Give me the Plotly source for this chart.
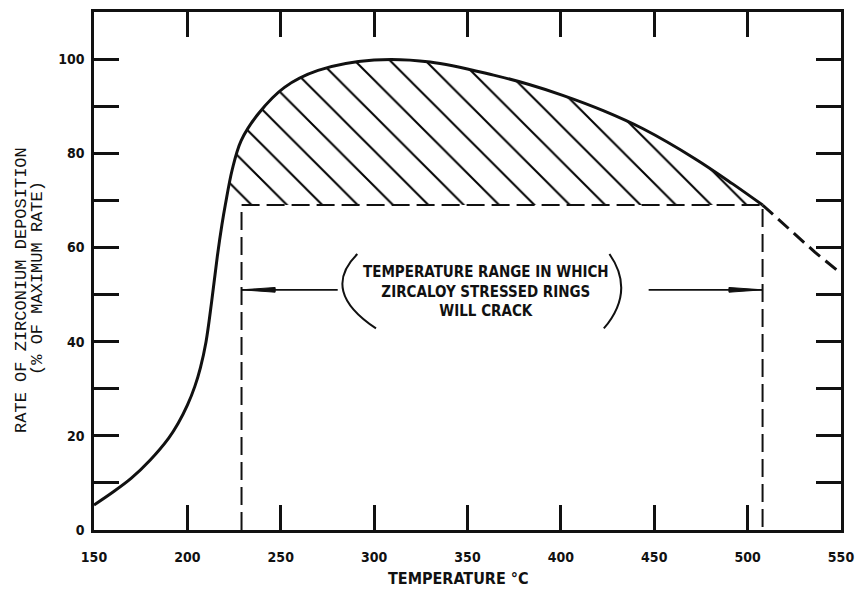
import plotly.graph_objects as go

# Deposition rate curve (% of maximum rate) versus temperature (deg C)
temp_c = [150, 160, 170, 180, 190, 195, 200, 204, 207, 210, 213, 216, 218.5,
          220.3, 224, 228.8, 238, 252, 270, 300, 330, 364, 383, 401, 423,
          444, 472, 492, 508]
rate_pct = [5.3, 8.0, 11.0, 14.8, 19.5, 22.6, 26.5, 30.5, 34.5, 40.0, 48.5, 58.0, 64.8,
            69.0, 76.5, 82.7, 88.4, 94.0, 97.6, 99.8, 99.4, 96.6, 94.6, 92.3, 89.0,
            85.2, 78.8, 73.5, 69.0]

# Extrapolated (dashed) continuation above 508 deg C
ext_temp_c = [508, 536, 550]
ext_rate_pct = [69.0, 59.0, 54.5]

# Cracking range of the stressed Zircaloy rings
crack_lo = 229
crack_hi = 508
crack_rate = 69
arrow_rate = 51
arrow_tail_lo = 280.5
arrow_tail_hi = 447

x_ticks = [150, 200, 250, 300, 350, 400, 450, 500, 550]
y_ticks = [0, 10, 20, 30, 40, 50, 60, 70, 80, 90, 100]
y_labels = [str(v) if v % 20 == 0 else "" for v in y_ticks]

label_lines = ["TEMPERATURE RANGE IN WHICH", "ZIRCALOY STRESSED RINGS", "WILL CRACK"]
label_temp = 360
label_rate = 50.7

COND = "DejaVu Sans Condensed"
MONO = "Liberation Mono"
INK = "#111111"
SMOOTH = 1.0

fig = go.Figure()

# Hatched band between the crack threshold and the curve
band = [(t, r) for t, r in zip(temp_c, rate_pct) if r >= crack_rate and t <= crack_hi]
band_t = [p[0] for p in band]
band_r = [p[1] for p in band]
fig.add_trace(go.Scatter(
    x=[band_t[0], band_t[-1]], y=[crack_rate, crack_rate], mode="lines",
    line=dict(width=0, color="rgba(0,0,0,0)"), hoverinfo="skip", showlegend=False))
fig.add_trace(go.Scatter(
    x=band_t, y=band_r, mode="lines",
    line=dict(width=0, shape="spline", smoothing=SMOOTH, color="rgba(0,0,0,0)"),
    fill="tonexty", fillcolor="rgba(255,255,255,0)",
    fillpattern=dict(shape="\\", size=25, solidity=0.08, fillmode="replace",
                     fgcolor="#000000", fgopacity=1, bgcolor="rgba(255,255,255,0)"),
    hoverinfo="skip", showlegend=False))

# Dashed outline of the cracking range
fig.add_trace(go.Scatter(
    x=[crack_lo, crack_lo, crack_hi, crack_hi], y=[0, crack_rate, crack_rate, 0],
    mode="lines", line=dict(color=INK, width=2, dash="18px,7px"),
    hoverinfo="skip", showlegend=False))

# Measured curve
fig.add_trace(go.Scatter(
    x=temp_c, y=rate_pct, mode="lines",
    line=dict(color=INK, width=3, shape="spline", smoothing=SMOOTH),
    showlegend=False))

# Extrapolated tail
fig.add_trace(go.Scatter(
    x=ext_temp_c, y=ext_rate_pct, mode="lines",
    line=dict(color=INK, width=3, dash="14px,7px"),
    showlegend=False))

# Range arrows
head_len = 18
head_half = 0.5
for tail, head in ((arrow_tail_lo, crack_lo), (arrow_tail_hi, crack_hi)):
    fig.add_trace(go.Scatter(
        x=[tail, head], y=[arrow_rate, arrow_rate], mode="lines",
        line=dict(color=INK, width=1.6), hoverinfo="skip", showlegend=False))
    back = head + head_len if head < tail else head - head_len
    fig.add_trace(go.Scatter(
        x=[head, back, back, head],
        y=[arrow_rate, arrow_rate + head_half, arrow_rate - head_half, arrow_rate],
        mode="lines", fill="toself", fillcolor=INK,
        line=dict(color=INK, width=1), hoverinfo="skip", showlegend=False))

# Parentheses around the range label
paren_top = label_rate + 7.9
paren_bot = label_rate - 7.9
left_paren = (label_temp - 69, label_temp - 89, label_temp - 59)
right_paren = (label_temp + 66, label_temp + 80, label_temp + 63)
for x_top, x_ctrl, x_bot in (left_paren, right_paren):
    fig.add_shape(
        type="path", xref="x", yref="y",
        path=f"M {x_top},{paren_top} Q {x_ctrl},{label_rate} {x_bot},{paren_bot}",
        line=dict(color=INK, width=2))

fig.add_annotation(
    x=label_temp, y=label_rate, xref="x", yref="y", showarrow=False,
    text="<br>".join(label_lines), align="center",
    font=dict(family=COND, size=15, color=INK, weight="bold"))

# Axis titles
fig.add_annotation(
    x=0.488, y=-0.093, xref="paper", yref="paper", showarrow=False,
    text="TEMPERATURE °C", xanchor="center", yanchor="middle",
    font=dict(family=COND, size=16, color=INK, weight="bold"))
fig.add_annotation(
    x=0, y=0.4635, xref="paper", yref="paper", showarrow=False,
    xanchor="center", yanchor="middle", xshift=-72,
    text="RATE OF ZIRCONIUM DEPOSITION", textangle=-90,
    font=dict(family=MONO, size=17, color=INK))
fig.add_annotation(
    x=0, y=0.4866, xref="paper", yref="paper", showarrow=False,
    xanchor="center", yanchor="middle", xshift=-56,
    text="(% OF MAXIMUM RATE)", textangle=-90,
    font=dict(family=MONO, size=17, color=INK))

axis_common = dict(
    showline=True, linecolor=INK, linewidth=2.5, mirror="ticks",
    ticks="inside", ticklen=25, tickwidth=2.5, tickcolor=INK,
    showgrid=False, zeroline=False,
    tickfont=dict(family=COND, size=14, color=INK, weight="bold"))

fig.update_xaxes(range=[150, 550], tickvals=x_ticks,
                 ticktext=[str(v) for v in x_ticks], ticklabelstandoff=12,
                 **axis_common)
fig.update_yaxes(range=[0, 110], tickvals=y_ticks, ticktext=y_labels,
                 ticklabelstandoff=4, **axis_common)

fig.update_layout(
    width=863, height=594,
    margin=dict(l=94, r=18, t=9, b=64),
    paper_bgcolor="white", plot_bgcolor="white",
    showlegend=False)

fig.write_html("out.html")
